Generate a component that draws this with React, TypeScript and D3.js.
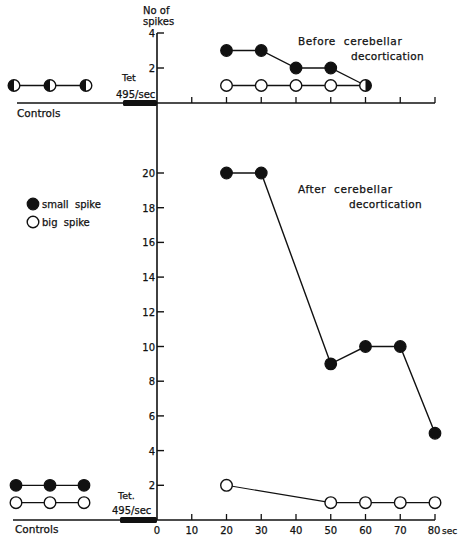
import React from "react";
import * as d3 from "d3";

// Before cerebellar decortication (upper panel)
const beforeTimes = [20, 30, 40, 50, 60];
const beforeSmall = [3, 3, 2, 2, 1];
const beforeBig = [1, 1, 1, 1, 1];
const beforeControls = [1, 1, 1];

// After cerebellar decortication (lower panel)
const afterSmallTimes = [20, 30, 50, 60, 70, 80];
const afterSmall = [20, 20, 9, 10, 10, 5];
const afterBigTimes = [20, 50, 60, 70, 80];
const afterBig = [2, 1, 1, 1, 1];
const afterControlsSmall = [2, 2, 2];
const afterControlsBig = [1, 1, 1];

const topTicksY = [2, 4];
const bottomTicksY = [2, 4, 6, 8, 10, 12, 14, 16, 18, 20];
const topTicksX = [10, 20, 30, 40, 50, 60, 70, 80];
const bottomTicksX = [10, 20, 30, 40, 50, 60, 70, 80];
const bottomTickLabels = ["0", "10", "20", "30", "40", "50", "60", "70", "80"];

const W = 459;
const H = 537;
const FONT = "DejaVu Sans, sans-serif";
const R = 5.8;

const x = d3.scaleLinear().domain([0, 80]).range([157, 435]);
const yTop = d3.scaleLinear().domain([0, 4]).range([103, 33]);
const yBot = d3.scaleLinear().domain([0, 20]).range([520, 173]);
const xCtrlTop = d3.scalePoint<number>().domain([0, 1, 2]).range([14, 86]);
const xCtrlBot = d3.scalePoint<number>().domain([0, 1, 2]).range([16, 84]);

const linePath = (xs: number[], ys: number[], sx: (v: number) => number, sy: (v: number) => number) =>
  d3
    .line<[number, number]>()
    .x((d) => sx(d[0]))
    .y((d) => sy(d[1]))(xs.map((v, i) => [v, ys[i]] as [number, number])) || "";

function Dot({ cx, cy, kind }: { cx: number; cy: number; kind: "filled" | "open" | "halfL" | "halfR" }) {
  if (kind === "filled") return <circle cx={cx} cy={cy} r={R} fill="#111" stroke="#111" strokeWidth={1.2} />;
  if (kind === "open") return <circle cx={cx} cy={cy} r={R} fill="#fff" stroke="#111" strokeWidth={1.4} />;
  const sweep = kind === "halfL" ? 0 : 1;
  return (
    <g>
      <circle cx={cx} cy={cy} r={R} fill="#fff" stroke="#111" strokeWidth={1.4} />
      <path d={`M${cx},${cy - R} A${R},${R} 0 0 ${sweep} ${cx},${cy + R} Z`} fill="#111" />
    </g>
  );
}

export default function App() {
  const ctrlIdx = [0, 1, 2];
  const txt = {
    fontFamily: FONT,
    fill: "#111",
    stroke: "#111",
    strokeWidth: 0.25,
    style: { whiteSpace: "pre" as const },
  };
  return (
    <div style={{ position: "absolute", left: 0, top: 0 }}>
      <svg width={W} height={H} viewBox={`0 0 ${W} ${H}`} style={{ display: "block", background: "#fff" }}>
        {/* vertical axis shared by both panels */}
        <line x1={x(0)} x2={x(0)} y1={yTop(4)} y2={yBot(0)} stroke="#111" strokeWidth={1.6} />

        {/* ---- upper panel ---- */}
        <line x1={17} x2={x(80)} y1={yTop(0)} y2={yTop(0)} stroke="#111" strokeWidth={1.6} />
        {topTicksX.map((t) => (
          <line key={t} x1={x(t)} x2={x(t)} y1={yTop(0)} y2={yTop(0) - 6} stroke="#111" strokeWidth={1.3} />
        ))}
        {topTicksY.map((t) => (
          <g key={t}>
            <line x1={x(0)} x2={x(0) + 7} y1={yTop(t)} y2={yTop(t)} stroke="#111" strokeWidth={1.4} />
            <text x={x(0) - 2} y={yTop(t) + 4} textAnchor="end" fontSize={10} {...txt}>
              {t}
            </text>
          </g>
        ))}
        <text x={143} y={14} fontSize={10} {...txt}>No of</text>
        <text x={143} y={25} fontSize={10} {...txt}>spikes</text>
        <rect x={123} y={100} width={x(0) - 123} height={6} rx={1.5} fill="#111" />
        <text x={122} y={81} fontSize={9.5} {...txt}>Tet</text>
        <text x={116} y={98} fontSize={10} {...txt}>495/sec</text>
        <text x={17} y={117} fontSize={10.5} {...txt}>Controls</text>
        <text x={298} y={45} fontSize={10.5} letterSpacing={0.6} {...txt}>Before  cerebellar</text>
        <text x={351} y={60} fontSize={10.5} letterSpacing={0.3} {...txt}>decortication</text>

        <path d={linePath(ctrlIdx, beforeControls, (i) => xCtrlTop(i)!, yTop)} fill="none" stroke="#111" strokeWidth={1.3} />
        {ctrlIdx.map((i) => (
          <Dot key={i} cx={xCtrlTop(i)!} cy={yTop(beforeControls[i])} kind="halfL" />
        ))}
        <path d={linePath(beforeTimes, beforeBig, x, yTop)} fill="none" stroke="#111" strokeWidth={1.3} />
        <path d={linePath(beforeTimes, beforeSmall, x, yTop)} fill="none" stroke="#111" strokeWidth={1.3} />
        {beforeTimes.map((t, i) =>
          beforeSmall[i] === beforeBig[i] ? null : <Dot key={"b" + t} cx={x(t)} cy={yTop(beforeBig[i])} kind="open" />
        )}
        {beforeTimes.map((t, i) => (
          <Dot key={"s" + t} cx={x(t)} cy={yTop(beforeSmall[i])} kind={beforeSmall[i] === beforeBig[i] ? "halfR" : "filled"} />
        ))}

        {/* ---- lower panel ---- */}
        <line x1={13} x2={x(80)} y1={yBot(0)} y2={yBot(0)} stroke="#111" strokeWidth={1.6} />
        {bottomTicksX.map((t) => (
          <line key={t} x1={x(t)} x2={x(t)} y1={yBot(0)} y2={yBot(0) - 6} stroke="#111" strokeWidth={1.3} />
        ))}
        {bottomTickLabels.map((s) => (
          <text key={s} x={x(+s) - (s === "80" ? 1 : 0)} y={yBot(0) + 14} textAnchor="middle" fontSize={10} {...txt}>
            {s}
          </text>
        ))}
        <text x={x(80) + 7} y={yBot(0) + 14} fontSize={9} {...txt}>sec</text>
        {bottomTicksY.map((t) => (
          <g key={t}>
            <line x1={x(0)} x2={x(0) + 7} y1={yBot(t)} y2={yBot(t)} stroke="#111" strokeWidth={1.4} />
            <text x={x(0) - 2} y={yBot(t) + 4} textAnchor="end" fontSize={10} {...txt}>
              {t}
            </text>
          </g>
        ))}
        <rect x={120} y={517} width={x(0) - 120} height={6} rx={1.5} fill="#111" />
        <text x={118} y={499} fontSize={9.5} {...txt}>Tet.</text>
        <text x={112} y={514} fontSize={10} {...txt}>495/sec</text>
        <text x={15} y={533} fontSize={10.5} {...txt}>Controls</text>
        <text x={298} y={193} fontSize={10.5} letterSpacing={0.6} {...txt}>After  cerebellar</text>
        <text x={349} y={208} fontSize={10.5} letterSpacing={0.3} {...txt}>decortication</text>

        {/* legend */}
        <Dot cx={33} cy={204} kind="filled" />
        <text x={42} y={208} fontSize={10} {...txt}>small  spike</text>
        <Dot cx={33} cy={222} kind="open" />
        <text x={42} y={226} fontSize={10} {...txt}>big  spike</text>

        <path d={linePath(ctrlIdx, afterControlsSmall, (i) => xCtrlBot(i)!, yBot)} fill="none" stroke="#111" strokeWidth={1.3} />
        <path d={linePath(ctrlIdx, afterControlsBig, (i) => xCtrlBot(i)!, yBot)} fill="none" stroke="#111" strokeWidth={1.1} />
        {ctrlIdx.map((i) => (
          <g key={i}>
            <Dot cx={xCtrlBot(i)!} cy={yBot(afterControlsSmall[i])} kind="filled" />
            <Dot cx={xCtrlBot(i)!} cy={yBot(afterControlsBig[i])} kind="open" />
          </g>
        ))}
        <path d={linePath(afterSmallTimes, afterSmall, x, yBot)} fill="none" stroke="#111" strokeWidth={1.4} />
        <path d={linePath(afterBigTimes, afterBig, x, yBot)} fill="none" stroke="#111" strokeWidth={1.1} />
        {afterSmallTimes.map((t, i) => (
          <Dot key={"s" + t} cx={x(t)} cy={yBot(afterSmall[i])} kind="filled" />
        ))}
        {afterBigTimes.map((t, i) => (
          <Dot key={"b" + t} cx={x(t)} cy={yBot(afterBig[i])} kind="open" />
        ))}
      </svg>
    </div>
  );
}
